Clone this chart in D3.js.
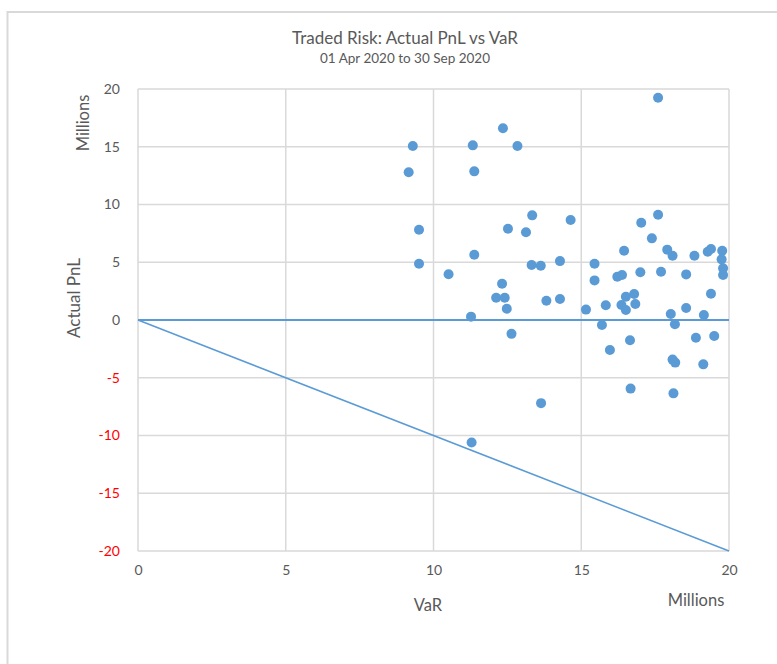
<!DOCTYPE html>
<html>
<head>
<meta charset="utf-8">
<script src="https://cdn.jsdelivr.net/npm/d3@7"></script>
<style>
  html, body { margin: 0; padding: 0; background: #fff; }
  svg { display: block; font-family: Lato, "Open Sans", sans-serif; }
</style>
</head>
<body>
<svg id="chart" width="777" height="664"></svg>
<script>
// VaR (millions)
const varValues = [
  9.30, 11.33, 12.35, 12.84, 9.16, 11.38, 13.34, 14.64, 9.51, 12.52,
  13.13, 11.38, 9.51, 13.32, 13.63, 14.28, 10.51, 12.32, 12.12, 12.41,
  13.82, 14.28, 12.48, 11.27, 12.64, 13.64, 11.29, 17.60, 17.60, 17.03,
  17.39, 16.45, 17.91, 18.09, 18.83, 19.28, 19.39, 19.77, 19.75, 19.80,
  19.80, 15.45, 15.45, 16.22, 16.38, 17.00, 17.70, 18.55, 15.16, 15.83,
  16.51, 16.79, 16.36, 16.51, 16.83, 18.03, 18.55, 19.15, 19.39, 15.70,
  18.17, 16.65, 15.97, 18.88, 19.50, 18.09, 18.18, 19.13, 16.67, 18.12
];
// Actual PnL (millions)
const pnlValues = [
  15.06, 15.12, 16.60, 15.06, 12.79, 12.87, 9.06, 8.66, 7.82, 7.90,
  7.59, 5.65, 4.87, 4.76, 4.70, 5.10, 3.96, 3.14, 1.93, 1.93,
  1.67, 1.82, 0.98, 0.29, -1.20, -7.20, -10.60, 19.25, 9.12, 8.42,
  7.07, 6.00, 6.09, 5.57, 5.57, 5.91, 6.15, 6.00, 5.25, 4.47,
  3.90, 4.87, 3.43, 3.75, 3.90, 4.13, 4.18, 3.95, 0.90, 1.27,
  2.02, 2.25, 1.30, 0.87, 1.39, 0.52, 1.04, 0.43, 2.28, -0.43,
  -0.37, -1.76, -2.60, -1.53, -1.39, -3.43, -3.69, -3.84, -5.94, -6.35
];
const xTicks = [0, 5, 10, 15, 20];
const yTicks = [-20, -15, -10, -5, 0, 5, 10, 15, 20];
// reference lines: zero PnL and -VaR
const zeroLine = [[0, 0], [20, 0]];
const varLine = [[0, 0], [20, -20]];

const svg = d3.select("#chart");
const blue = "#5b9bd5";
const grid = "#d9d9d9";
const textCol = "#595959";

// outer frame
svg.append("rect").attr("x", 7.5).attr("y", 12).attr("width", 800).attr("height", 700)
  .attr("fill", "none").attr("stroke", "#d9d9d9").attr("stroke-width", 2);

const x = d3.scaleLinear().domain([0, 20]).range([138, 729]);
const y = d3.scaleLinear().domain([-20, 20]).range([551, 89]);

// gridlines
svg.append("g").selectAll("line").data(yTicks).join("line")
  .attr("x1", x(0)).attr("x2", x(20))
  .attr("y1", d => y(d)).attr("y2", d => y(d))
  .attr("stroke", grid).attr("stroke-width", 1.5);
svg.append("g").selectAll("line").data(xTicks).join("line")
  .attr("y1", y(-20)).attr("y2", y(20))
  .attr("x1", d => x(d)).attr("x2", d => x(d))
  .attr("stroke", grid).attr("stroke-width", 1.5);

const fmt = d => String(d);

// axes (tick labels only)
const xAxis = svg.append("g").attr("transform", `translate(0,${y(-20)})`)
  .call(d3.axisBottom(x).tickValues(xTicks).tickFormat(fmt).tickSize(0).tickPadding(14));
xAxis.select(".domain").remove();
xAxis.selectAll("text").attr("fill", textCol).style("font-size", "14px").style("font-family", "Lato, sans-serif");

const yAxis = svg.append("g").attr("transform", `translate(${x(0)},0)`)
  .call(d3.axisLeft(y).tickValues(yTicks).tickFormat(fmt).tickSize(0).tickPadding(18));
yAxis.select(".domain").remove();
yAxis.selectAll("text").attr("fill", d => d < 0 ? "#ff0000" : textCol)
  .style("font-size", "14px").style("font-family", "Lato, sans-serif");

// reference lines
const line = d3.line().x(d => x(d[0])).y(d => y(d[1]));
svg.append("path").attr("d", line(zeroLine)).attr("fill", "none")
  .attr("stroke", blue).attr("stroke-width", 2);
svg.append("path").attr("d", line(varLine)).attr("fill", "none")
  .attr("stroke", blue).attr("stroke-width", 1.5);

// points
svg.append("g").selectAll("circle").data(varValues.map((v, i) => [v, pnlValues[i]]))
  .join("circle")
  .attr("cx", d => x(d[0])).attr("cy", d => y(d[1])).attr("r", 5)
  .attr("fill", blue);

// titles
svg.append("text").attr("x", 405).attr("y", 44).attr("text-anchor", "middle")
  .attr("fill", textCol).style("font-size", "17px").text("Traded Risk: Actual PnL vs VaR");
svg.append("text").attr("x", 405).attr("y", 63).attr("text-anchor", "middle")
  .attr("fill", textCol).style("font-size", "13.5px").text("01 Apr 2020 to 30 Sep 2020");

// axis titles
svg.append("text").attr("transform", "translate(80,298) rotate(-90)").attr("text-anchor", "middle")
  .attr("fill", textCol).style("font-size", "17px").text("Actual PnL");
svg.append("text").attr("transform", "translate(89,123) rotate(-90)").attr("text-anchor", "middle")
  .attr("fill", textCol).style("font-size", "16.5px").text("Millions");
svg.append("text").attr("x", 428).attr("y", 611).attr("text-anchor", "middle")
  .attr("fill", textCol).style("font-size", "16.5px").text("VaR");
svg.append("text").attr("x", 696).attr("y", 606).attr("text-anchor", "middle")
  .attr("fill", textCol).style("font-size", "16.5px").text("Millions");
</script>
</body>
</html>
